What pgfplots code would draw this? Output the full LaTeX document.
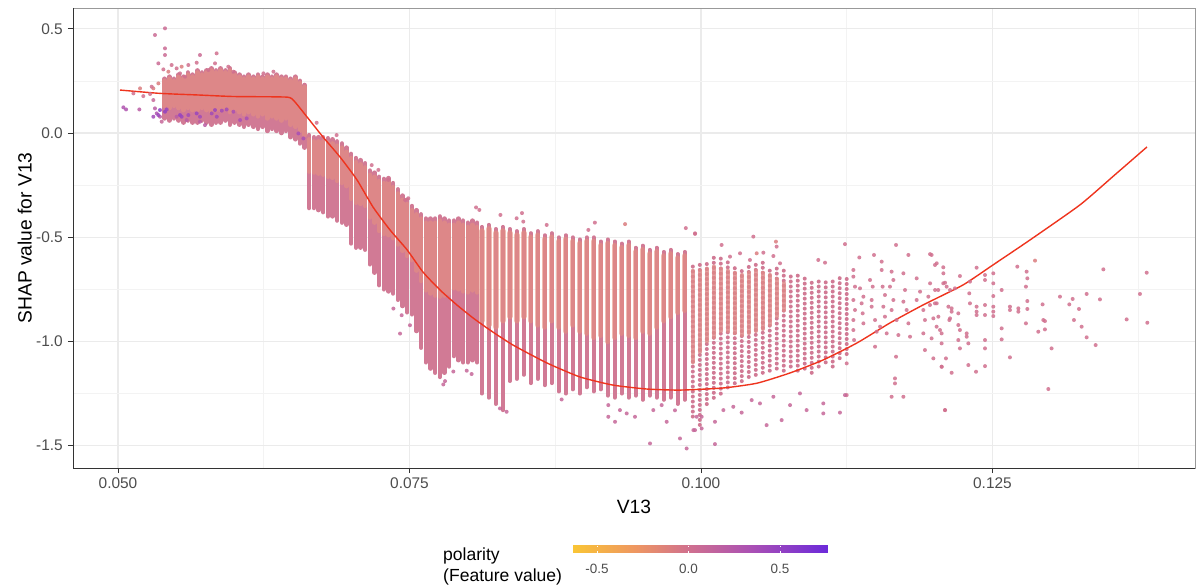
\documentclass[border=0pt]{standalone}
\usepackage{fontspec}
\setmainfont{Liberation Sans}
\usepackage{pgfplots}
\pgfplotsset{compat=1.18}
\usepackage{pgfplotstable}
\usetikzlibrary{calc}

\definecolor{pinkbase}{RGB}{209,122,149}
\definecolor{salmon}{RGB}{230,145,128}
\definecolor{smoothred}{RGB}{238,52,30}
\definecolor{gridmaj}{RGB}{235,235,235}
\definecolor{gridmin}{RGB}{243,243,243}
\definecolor{tickcol}{RGB}{77,77,77}
\definecolor{axcol}{RGB}{51,51,51}

% top cluster
\pgfplotstableread{
x lo hi clo chi
0.0540 0.07 0.26 0.13 0.25
0.0544 0.06 0.27 0.12 0.26
0.0548 0.07 0.26 0.13 0.25
0.0552 0.06 0.28 0.12 0.27
0.0556 0.05 0.27 0.11 0.26
0.0560 0.06 0.29 0.12 0.28
0.0564 0.05 0.28 0.11 0.27
0.0568 0.05 0.30 0.11 0.29
0.0572 0.06 0.29 0.12 0.28
0.0576 0.05 0.30 0.11 0.29
0.0580 0.04 0.31 0.10 0.30
0.0584 0.05 0.30 0.11 0.29
0.0588 0.05 0.31 0.11 0.30
0.0592 0.06 0.30 0.12 0.29
0.0596 0.04 0.31 0.10 0.30
0.0600 0.05 0.29 0.11 0.28
0.0604 0.04 0.28 0.10 0.27
0.0608 0.03 0.27 0.09 0.26
0.0612 0.04 0.28 0.10 0.27
0.0616 0.03 0.27 0.09 0.26
0.0620 0.02 0.28 0.08 0.27
0.0624 0.03 0.27 0.09 0.26
0.0628 0.01 0.28 0.07 0.27
0.0632 0.02 0.27 0.08 0.26
0.0636 0.01 0.28 0.07 0.27
0.0640 0.00 0.27 0.06 0.26
0.0644 0.01 0.27 0.07 0.26
0.0648 -0.02 0.26 0.04 0.25
0.0652 -0.03 0.27 0.03 0.26
0.0656 -0.05 0.25 0.01 0.24
0.0660 -0.07 0.23 -0.01 0.22
}\stripesA

% descending band
\pgfplotstableread{
x lo hi clo chi
0.0664 -0.36 -0.010 -0.185 -0.03
0.0668 -0.36 -0.020 -0.190 -0.04
0.0672 -0.37 -0.020 -0.195 -0.04
0.0676 -0.38 -0.020 -0.200 -0.04
0.0680 -0.40 -0.025 -0.210 -0.045
0.0684 -0.40 -0.030 -0.215 -0.05
0.0688 -0.42 -0.040 -0.230 -0.06
0.0692 -0.43 -0.050 -0.240 -0.07
0.0696 -0.44 -0.070 -0.255 -0.09
0.0700 -0.53 -0.100 -0.315 -0.12
0.0704 -0.55 -0.120 -0.335 -0.14
0.0708 -0.55 -0.130 -0.340 -0.15
0.0712 -0.56 -0.145 -0.350 -0.165
0.0716 -0.63 -0.180 -0.405 -0.20
0.0720 -0.67 -0.190 -0.430 -0.21
0.0724 -0.73 -0.210 -0.470 -0.23
0.0728 -0.75 -0.220 -0.485 -0.24
0.0732 -0.76 -0.216 -0.490 -0.236
0.0736 -0.77 -0.240 -0.505 -0.26
0.0740 -0.80 -0.270 -0.535 -0.29
0.0744 -0.83 -0.300 -0.565 -0.32
0.0748 -0.86 -0.320 -0.590 -0.34
0.0752 -0.87 -0.350 -0.610 -0.37
0.0756 -0.95 -0.370 -0.660 -0.39
0.0760 -1.03 -0.390 -0.710 -0.41
0.0764 -1.10 -0.410 -0.755 -0.43
0.0768 -1.13 -0.410 -0.770 -0.43
0.0772 -1.15 -0.410 -0.780 -0.43
0.0776 -1.17 -0.400 -0.785 -0.42
0.0780 -1.15 -0.410 -0.780 -0.43
0.0784 -1.12 -0.420 -0.770 -0.44
0.0788 -1.07 -0.420 -0.745 -0.44
0.0792 -1.09 -0.410 -0.750 -0.43
0.0796 -1.10 -0.420 -0.760 -0.44
0.0800 -1.10 -0.430 -0.765 -0.45
0.0804 -1.09 -0.420 -0.755 -0.44
0.0808 -1.10 -0.430 -0.765 -0.45
}\stripesB

% trough region
\pgfplotstableread{
x lo hi clo chi
0.0812 -1.25 -0.45 -0.90 -0.47
0.0818 -1.27 -0.44 -0.92 -0.46
0.0824 -1.30 -0.46 -0.93 -0.48
0.0830 -1.33 -0.45 -0.90 -0.47
0.0836 -1.19 -0.46 -0.88 -0.48
0.0842 -1.18 -0.47 -0.90 -0.49
0.0848 -1.16 -0.46 -0.88 -0.48
0.0854 -1.20 -0.48 -0.90 -0.50
0.0860 -1.18 -0.47 -0.92 -0.49
0.0866 -1.21 -0.49 -0.93 -0.51
0.0872 -1.20 -0.48 -0.90 -0.50
0.0878 -1.24 -0.50 -0.93 -0.52
0.0884 -1.25 -0.49 -0.95 -0.51
0.0890 -1.23 -0.50 -0.92 -0.52
0.0896 -1.25 -0.51 -0.95 -0.53
0.0902 -1.22 -0.50 -0.96 -0.52
0.0908 -1.24 -0.50 -0.98 -0.52
0.0914 -1.23 -0.52 -0.97 -0.54
0.0920 -1.26 -0.51 -1.00 -0.53
0.0926 -1.27 -0.52 -0.98 -0.54
0.0932 -1.25 -0.53 -0.96 -0.55
0.0938 -1.27 -0.52 -0.97 -0.54
0.0944 -1.26 -0.55 -0.98 -0.57
0.0950 -1.28 -0.54 -0.95 -0.56
0.0956 -1.26 -0.56 -0.96 -0.58
0.0962 -1.27 -0.55 -0.93 -0.57
0.0968 -1.28 -0.57 -0.90 -0.59
0.0974 -1.27 -0.56 -0.88 -0.58
0.0980 -1.30 -0.58 -0.86 -0.60
0.0986 -1.28 -0.57 -0.85 -0.59
}\stripesC

% thinning columns
\pgfplotstableread{
x lo hi
0.0993 -1.36 -0.62
0.0999 -1.40 -0.63
0.1005 -1.30 -0.61
0.1011 -1.27 -0.59
0.1017 -1.25 -0.60
0.1023 -1.22 -0.62
0.1029 -1.20 -0.63
0.1035 -1.19 -0.64
0.1041 -1.17 -0.63
0.1047 -1.16 -0.62
0.1053 -1.15 -0.62
0.1059 -1.14 -0.64
0.1065 -1.13 -0.63
0.1071 -1.14 -0.66
0.1077 -1.12 -0.67
0.1083 -1.14 -0.68
0.1089 -1.13 -0.69
0.1095 -1.15 -0.70
0.1101 -1.12 -0.71
0.1107 -1.10 -0.70
0.1113 -1.12 -0.69
0.1119 -1.08 -0.68
0.1125 -1.06 -0.68
}\stripesD

\pgfplotstableread{
x lo hi
0.0993 -1.10 -0.66
0.0999 -1.05 -0.66
0.1005 -1.00 -0.65
0.1011 -0.98 -0.64
0.1017 -0.95 -0.65
0.1023 -0.95 -0.66
0.1029 -0.96 -0.67
0.1035 -0.97 -0.68
0.1041 -0.96 -0.67
0.1047 -0.95 -0.66
0.1053 -0.94 -0.67
0.1059 -0.92 -0.68
0.1065 -0.88 -0.70
0.1071 -0.85 -0.72
}\coreD

% individual points: x, SHAP, polarity
\pgfplotstableread{
x y c
0.05046 0.123 0.3
0.05069 0.113 0.3
0.05132 0.190 0.0
0.05189 0.214 -0.1
0.05183 0.113 0.2
0.05217 0.177 0.0
0.05275 0.187 0.0
0.05303 0.214 -0.1
0.05303 0.158 0.1
0.05317 0.118 0.2
0.05332 0.094 0.3
0.05360 0.078 0.2
0.05375 0.054 0.1
0.05289 0.222 0.0
0.05346 0.238 -0.1
0.05317 0.470 0.05
0.05403 0.502 0.05
0.05403 0.406 0.05
0.05403 0.374 0.05
0.05346 0.334 0.05
0.05389 0.305 0.0
0.05460 0.326 0.0
0.05432 0.294 -0.1
0.05503 0.310 0.0
0.05546 0.318 -0.1
0.05603 0.326 0.0
0.05532 0.286 0.0
0.05575 0.270 0.0
0.05703 0.374 0.05
0.05675 0.337 0.0
0.05846 0.382 0.0
0.05832 0.334 0.0
0.05775 0.302 0.0
0.05946 0.318 0.0
0.05990 0.294 0.0
0.06247 0.286 0.0
0.06333 0.294 0.0
0.05703 0.054 0.2
0.05589 0.062 0.2
0.05503 0.078 0.2
0.05746 0.038 0.2
0.05403 0.102 0.5
0.05418 0.113 0.45
0.05532 0.086 0.5
0.05546 0.078 0.45
0.05603 0.086 0.4
0.05675 0.094 0.45
0.05804 0.094 0.4
0.05832 0.110 0.45
0.05890 0.107 0.4
0.05932 0.113 0.4
0.05990 0.102 0.35
0.06047 0.062 0.35
0.06104 0.070 0.35
0.05346 0.086 0.45
0.05360 0.110 0.55
0.05303 0.078 0.4
0.05847 0.078 0.4
0.05703 0.078 0.4
0.06547 -0.002 0.35
0.06590 -0.026 0.35
0.07233 -0.177 0.0
0.07319 -0.225 0.0
0.07462 -0.321 0.0
0.07490 -0.313 0.0
0.08071 -0.357 0.0
0.08099 -0.369 0.0
0.07362 -0.842 0.1
0.07433 -0.874 0.1
0.07419 -0.962 0.1
0.07504 -0.922 0.1
0.07790 -1.206 0.1
0.07805 -1.190 0.1
0.07876 -1.144 0.1
0.07991 -1.140 0.1
0.08033 -1.156 0.1
0.06704 0.049 0.0
0.06875 -0.010 0.0
0.07176 -0.154 0.0
0.08276 -1.321 0.1
0.08333 -1.337 0.1
0.08805 -1.278 0.1
0.09205 -1.305 0.1
0.09205 -1.361 0.1
0.09263 -1.385 0.1
0.09305 -1.329 0.1
0.09363 -1.345 0.1
0.09434 -1.361 0.1
0.09563 -1.489 0.1
0.09591 -1.329 0.1
0.09663 -1.305 0.1
0.09706 -1.385 0.1
0.09777 -1.330 0.1
0.09820 -1.465 0.1
0.09877 -1.513 0.1
0.09935 -1.425 0.1
0.09963 -1.361 0.1
0.09034 -0.465 0.0
0.09349 -0.437 -0.1
0.08677 -0.441 0.0
0.08419 -0.409 0.0
0.08476 -0.425 0.0
0.09949 -0.481 0.0
0.08280 -0.393 0.0
0.08465 -0.384 0.0
0.09090 -0.430 0.0
0.09870 -0.456 0.0
0.09949 -0.484 0.0
0.10177 -0.537 0.0
0.10449 -0.497 0.0
0.10643 -0.521 -0.1
0.10649 -0.545 0.0
0.10621 -0.590 0.0
0.10478 -0.577 -0.1
0.10535 -0.574 0.0
0.10420 -0.609 0.0
0.10335 -0.577 0.0
0.10249 -0.593 0.0
0.10678 -0.625 0.0
0.11006 -0.609 0.0
0.11064 -0.622 0.0
0.11235 -0.533 0.0
0.11358 -0.597 0.0
0.11484 -0.585 0.0
0.11550 -0.617 0.0
0.11673 -0.537 0.0
0.11779 -0.585 0.0
0.11965 -0.581 0.0
0.12022 -0.625 0.0
0.11307 -0.657 0.0
0.11307 -0.689 0.0
0.11321 -0.737 0.0
0.11307 -0.801 0.0
0.11321 -0.849 0.0
0.11307 -0.897 0.0
0.11307 -0.945 0.0
0.11313 -0.993 0.0
0.11250 -1.105 0.0
0.11250 -1.257 0.0
0.11364 -0.745 0.0
0.11393 -0.785 0.0
0.11378 -0.817 0.0
0.11387 -0.865 0.0
0.11393 -0.913 0.0
0.11450 -0.705 0.0
0.11473 -0.737 0.0
0.11464 -0.801 0.0
0.11464 -0.833 0.0
0.11493 -0.897 0.0
0.11507 -0.953 0.0
0.11493 -1.025 0.0
0.11550 -0.657 0.0
0.11558 -0.737 0.0
0.11578 -0.777 0.0
0.11564 -0.833 0.0
0.11578 -0.881 0.0
0.11536 -0.929 0.0
0.11593 -0.961 0.0
0.11635 -0.665 0.0
0.11650 -0.705 0.0
0.11621 -0.737 0.0
0.11650 -0.801 0.0
0.11635 -0.849 0.0
0.11678 -0.897 0.0
0.11693 -0.969 0.0
0.11673 -1.073 0.0
0.11664 -1.177 0.0
0.11664 -1.201 0.0
0.11635 -1.265 0.0
0.11736 -0.673 0.0
0.11750 -0.753 0.0
0.11736 -0.809 0.0
0.11764 -0.849 0.0
0.11779 -0.913 0.0
0.11793 -0.977 0.0
0.11736 -1.265 0.0
0.11850 -0.697 0.0
0.11879 -0.761 0.0
0.11850 -0.801 0.0
0.11907 -0.849 0.0
0.11921 -0.897 0.0
0.11907 -0.961 0.0
0.11921 -1.041 0.0
0.11965 -0.721 0.0
0.11950 -0.785 0.0
0.12008 -0.753 0.0
0.12022 -0.817 0.0
0.12036 -0.881 0.0
0.12050 -0.945 0.0
0.12065 -1.121 0.0
0.12093 -1.329 0.0
0.12107 -0.737 0.0
0.12122 -0.833 0.0
0.12130 -0.897 0.0
0.12079 -0.673 0.0
0.09949 -1.425 0.1
0.10006 -1.417 0.1
0.10120 -1.385 0.1
0.10120 -1.492 0.1
0.10006 -1.361 0.1
0.10192 -1.329 0.1
0.10277 -1.313 0.1
0.10349 -1.341 0.1
0.10435 -1.281 0.1
0.10506 -1.297 0.1
0.10563 -1.401 0.1
0.10621 -1.265 0.1
0.10692 -1.377 0.1
0.10764 -1.305 0.1
0.10849 -1.249 0.1
0.10906 -1.329 0.1
0.11049 -1.345 0.1
0.11049 -1.297 0.1
0.11192 -1.341 0.1
0.11235 -1.257 0.1
0.11978 -0.585 0.0
0.12007 -0.633 0.0
0.12078 -0.644 0.0
0.12035 -0.753 0.0
0.11964 -0.825 0.0
0.12007 -0.817 0.0
0.11993 -0.889 0.0
0.12021 -0.929 0.0
0.11978 -0.985 0.0
0.12064 -0.961 0.0
0.12064 -1.009 0.0
0.11993 -1.081 0.0
0.12064 -1.121 0.0
0.12101 -1.081 0.0
0.12150 -1.150 0.0
0.12093 -1.329 0.0
0.12078 -0.721 0.0
0.12093 -0.718 0.0
0.12136 -0.753 0.0
0.12178 -0.745 0.0
0.12221 -0.686 0.0
0.12150 -0.841 0.0
0.12150 -0.857 0.0
0.12136 -0.889 0.0
0.12207 -0.865 0.0
0.12207 -0.921 0.0
0.12221 -0.945 0.0
0.12207 -0.993 0.0
0.12221 -1.033 0.0
0.12279 -0.961 0.0
0.12279 -0.977 0.0
0.12293 -1.009 0.0
0.12293 -1.113 0.0
0.12307 -0.713 0.0
0.12301 -0.769 0.0
0.12307 -0.817 0.0
0.12364 -0.833 0.0
0.12364 -0.857 0.0
0.12364 -0.873 0.0
0.12364 -0.646 0.0
0.12436 -0.681 0.0
0.12436 -0.705 0.0
0.12436 -0.825 0.0
0.12436 -0.873 0.0
0.12436 -0.993 0.0
0.12436 -1.033 0.0
0.12436 -1.118 0.0
0.12359 -1.145 0.0
0.12507 -0.673 0.0
0.12507 -0.721 0.0
0.12507 -0.782 0.0
0.12507 -0.833 0.0
0.12507 -0.857 0.0
0.12507 -0.878 0.0
0.12579 -0.753 0.0
0.12579 -0.937 0.0
0.12579 -0.990 0.0
0.12650 -0.833 0.0
0.12650 -0.849 0.0
0.12650 -1.076 0.0
0.12713 -0.641 0.0
0.12722 -0.841 0.0
0.12722 -0.857 0.0
0.12793 -0.665 0.0
0.12799 -0.697 0.0
0.12787 -0.737 0.0
0.12799 -0.806 0.0
0.12799 -0.844 0.0
0.12787 -0.913 0.0
0.12865 -0.612 -0.1
0.12893 -0.953 0.0
0.12930 -0.822 0.0
0.12936 -0.897 0.0
0.12950 -0.902 0.0
0.12950 -0.942 0.0
0.12979 -1.228 0.0
0.13007 -1.033 0.0
0.13079 -0.785 0.0
0.13159 -0.822 0.0
0.13188 -0.796 0.0
0.13199 -0.897 0.0
0.13242 -0.844 0.0
0.13265 -0.929 0.0
0.13308 -0.772 0.0
0.13308 -0.980 0.0
0.13385 -1.017 0.0
0.13422 -0.798 0.0
0.13451 -0.654 0.0
0.13651 -0.894 0.0
0.13765 -0.772 0.0
0.13823 -0.670 0.0
0.13828 -0.910 0.0
}\pts

\pgfplotsset{
  colstripe/.style n args={2}{draw=none, no markers, forget plot,
    error bars/.cd, y dir=plus, y explicit, error mark=none,
    error bar style={draw=#1, line cap=round, #2}},
}

\begin{document}
\begin{tikzpicture}
\path[use as bounding box] (-73bp,-118bp) rectangle (1123bp,468bp);
\begin{axis}[
  at={(0bp,0bp)}, anchor=south west,
  scale only axis, width=1122bp, height=460bp,
  xmin=0.04614, xmax=0.14237, ymin=-1.6067, ymax=0.5995,
  xtick={0.05,0.075,0.1,0.125}, xticklabels={0.050,0.075,0.100,0.125},
  ytick={-1.5,-1,-0.5,0,0.5}, yticklabels={-1.5,-1.0,-0.5,0.0,0.5},
  minor xtick={0.0625,0.0875,0.1125,0.1375},
  minor ytick={-1.25,-0.75,-0.25,0.25},
  grid=both,
  major grid style={draw=gridmaj, line width=1.1bp},
  minor grid style={draw=gridmin, line width=0.6bp},
  tick align=outside, major tick length=5bp, minor tick length=0bp,
  xtick pos=left, ytick pos=left,
  tick style={draw=axcol, line width=0.8bp},
  axis line style={draw=black!40, line width=0.8bp},
  ticklabel style={font=\fontsize{15.5}{17}\selectfont, text=tickcol},
  yticklabel style={anchor=east, inner sep=0pt, xshift=-5bp},
  xticklabel style={anchor=north, inner sep=0pt, yshift=-4.5bp},
  xlabel={V13}, ylabel={SHAP value for V13},
  label style={font=\fontsize{19.3}{22}\selectfont},
  xlabel style={at={(axis description cs:0.5,-0.0696)}, anchor=north, inner sep=0pt},
  ylabel style={at={(axis description cs:-0.03654,0.5)}, anchor=south, inner sep=0pt},
  colormap={pol}{rgb255(0cm)=(250,198,52); rgb255(2.5cm)=(238,150,98); rgb255(4.55cm)=(208,112,142); rgb255(7cm)=(170,80,180); rgb255(10cm)=(108,42,218)},
  point meta min=-0.637, point meta max=0.762,
  colorbar horizontal,
  colorbar style={
    at={($(parent axis.south west)+(499bp,-69bp)$)}, anchor=north west,
    scale only axis, width=256bp, height=7bp,
    xtick={-0.5,0,0.5}, xticklabels={-0.5,0.0,0.5},
    xticklabel style={font=\fontsize{13.5}{15}\selectfont, text=tickcol, inner sep=0pt, anchor=north, yshift=-11bp},
    axis line style={draw=none},
    xtick style={draw=white, line width=0.7bp},
    major tick length=1.5bp, tick align=inside, xtick pos=both,
    ytick=\empty,
  },
]
% full columns
\addplot[colstripe={pinkbase}{line width=4.6bp}]
  table[x=x, y=lo, y error expr=\thisrow{hi}-\thisrow{lo}] {\stripesA};
\addplot[colstripe={pinkbase}{line width=4.4bp}]
  table[x=x, y=lo, y error expr=\thisrow{hi}-\thisrow{lo}] {\stripesB};
\addplot[colstripe={pinkbase}{line width=3.8bp}]
  table[x=x, y=lo, y error expr=\thisrow{hi}-\thisrow{lo}] {\stripesC};
\addplot[colstripe={pinkbase}{line width=4bp, dash pattern=on 0bp off 5bp}]
  table[x=x, y=lo, y error expr=\thisrow{hi}-\thisrow{lo}] {\stripesD};
% denser, lighter cores
\addplot[colstripe={salmon}{draw opacity=0.6, line width=4.6bp}]
  table[x=x, y=clo, y error expr=\thisrow{chi}-\thisrow{clo}] {\stripesA};
\addplot[colstripe={salmon}{draw opacity=0.6, line width=4.4bp}]
  table[x=x, y=clo, y error expr=\thisrow{chi}-\thisrow{clo}] {\stripesB};
\addplot[colstripe={salmon}{draw opacity=0.6, line width=5.5bp}]
  table[x=x, y=clo, y error expr=\thisrow{chi}-\thisrow{clo}] {\stripesC};
\addplot[colstripe={salmon!60!pinkbase}{draw opacity=0.8, line width=4bp}]
  table[x=x, y=lo, y error expr=\thisrow{hi}-\thisrow{lo}] {\coreD};
% single points
\addplot[scatter, only marks, mark=*, mark size=2bp, point meta=explicit,
  scatter/use mapped color={draw=mapped color, fill=mapped color},
  mark options={line width=0bp, fill opacity=0.85, draw opacity=0}]
  table[x=x, y=y, meta=c] {\pts};
% smooth fit
\addplot[draw=smoothred, line width=1.4bp, no markers, forget plot, smooth, tension=0.35] coordinates {
(0.05017,0.206) (0.0536,0.190) (0.0570,0.182) (0.0599,0.175) (0.0639,0.173)
(0.0649,0.165) (0.06621,0.077) (0.06758,-0.019) (0.06904,-0.115) (0.0705,-0.225)
(0.07187,-0.355) (0.07333,-0.465) (0.07479,-0.560) (0.07616,-0.667) (0.07762,-0.753)
(0.07907,-0.825) (0.08045,-0.887) (0.0819,-0.945) (0.08388,-1.017) (0.08679,-1.103)
(0.08962,-1.170) (0.09245,-1.209) (0.09537,-1.228) (0.0982,-1.233) (0.10189,-1.223)
(0.1048,-1.200) (0.10763,-1.151) (0.11046,-1.089) (0.11338,-1.007) (0.11621,-0.911)
(0.11904,-0.825) (0.12247,-0.729) (0.12504,-0.633) (0.12822,-0.513) (0.1325,-0.345)
(0.13551,-0.200) (0.13825,-0.067)};
\draw[draw=axcol, line width=0.8bp] (rel axis cs:0,1) -- (rel axis cs:0,0) -- (rel axis cs:1,0);
\end{axis}
\node[anchor=north west, inner sep=0pt, align=left, font=\fontsize{17.6}{21}\selectfont] at (370bp,-80bp) {polarity\\(Feature value)};
\end{tikzpicture}
\end{document}
